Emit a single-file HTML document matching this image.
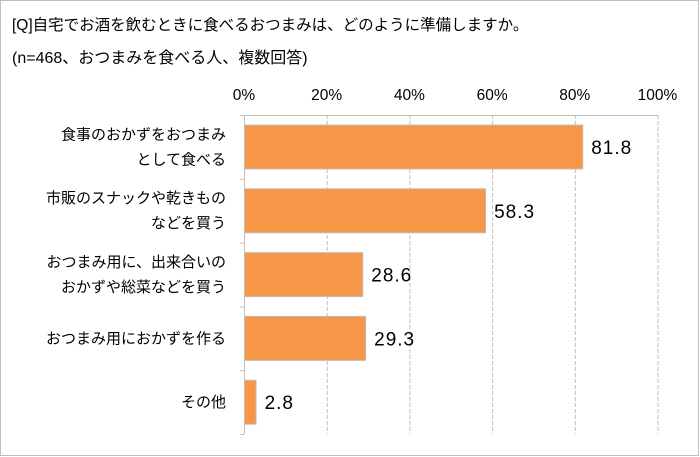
<!DOCTYPE html>
<html><head><meta charset="utf-8"><style>
body{margin:0;background:#fff;}
#wrap{position:relative;width:700px;height:457px;overflow:hidden;}
text{font-family:"Liberation Sans","Noto Sans CJK JP",sans-serif;}
</style></head><body>
<div id="wrap">
<svg id="chart" width="700" height="457">
<rect x="0.5" y="0.5" width="698" height="455" fill="#fff" stroke="#bfbfbf"/>
<text x="12" y="30" font-size="15.5" fill="#000">[Q]自宅でお酒を飲むときに食べるおつまみは、どのように準備しますか。</text>
<text x="12" y="63" font-size="16" fill="#000">(n=468、おつまみを食べる人、複数回答)</text>
<g id="grid"></g><g id="bars"></g>
</svg>
</div>
<script>
const categories=[["食事のおかずをおつまみ","として食べる"],["市販のスナックや乾きもの","などを買う"],["おつまみ用に、出来合いの","おかずや総菜などを買う"],["おつまみ用におかずを作る"],["その他"]];
const values=[81.8,58.3,28.6,29.3,2.8];
const valueLabels=["81.8","58.3","28.6","29.3","2.8"];
const ticks=[0,20,40,60,80,100];
const tickLabels=["0%","20%","40%","60%","80%","100%"];
const NS="http://www.w3.org/2000/svg";
const x0=244,x1=657.5,yTop=115,yBot=434;
const xs=v=>x0+(x1-x0)*v/100;
const band=(yBot-yTop)/categories.length;
function mk(t,a,p){const e=document.createElementNS(NS,t);for(const k in a)e.setAttribute(k,a[k]);p.appendChild(e);return e;}
const g=document.getElementById('grid'),b=document.getElementById('bars');
ticks.forEach((t,i)=>{
  const X=xs(t)+0.5;
  if(i>0){const l=mk('line',{x1:X,x2:X,y1:yTop,y2:yBot,stroke:'#bfbfbf','stroke-dasharray':'4,2'},g);
  
  }
  const tx=mk('text',{x:xs(t),y:100,'font-size':15.5,'text-anchor':'middle',fill:'#000'},g);
  tx.textContent=tickLabels[i];
  
  
});
const topBorder=mk('line',{x1:x0,x2:x1,y1:yTop+0.5,y2:yTop+0.5,stroke:'#bfbfbf'},g);


const ax=mk('line',{x1:x0+0.5,x2:x0+0.5,y1:yTop,y2:yBot,stroke:'#bfbfbf'},g);


for(let i=0;i<=categories.length;i++){const y=yTop+band*i+0.5;
  const t=mk('line',{x1:x0-4,x2:x0,y1:y,y2:y,stroke:'#bfbfbf'},g);
  
  }
values.forEach((v,i)=>{
  const yb=yTop+band*i+10;
  const r=mk('rect',{x:x0+0.5,y:yb,width:xs(v)-x0,height:44,fill:'#F79646',stroke:'#bfbfbf','stroke-width':1},b);
  
  
  const vt=mk('text',{x:xs(v)+9,y:yb+29,'font-size':19,'letter-spacing':'1',fill:'#000'},b);
  vt.textContent=valueLabels[i];
  
  
  const lines=categories[i];const cy=yTop+band*(i+0.5);
  lines.forEach((s,j)=>{
    const lt=mk('text',{x:226,y:cy+5+(j-(lines.length-1)/2)*25,'font-size':15,'text-anchor':'end',fill:'#000'},b);
    lt.textContent=s;
    
    
  });
});
</script>
</body></html>
